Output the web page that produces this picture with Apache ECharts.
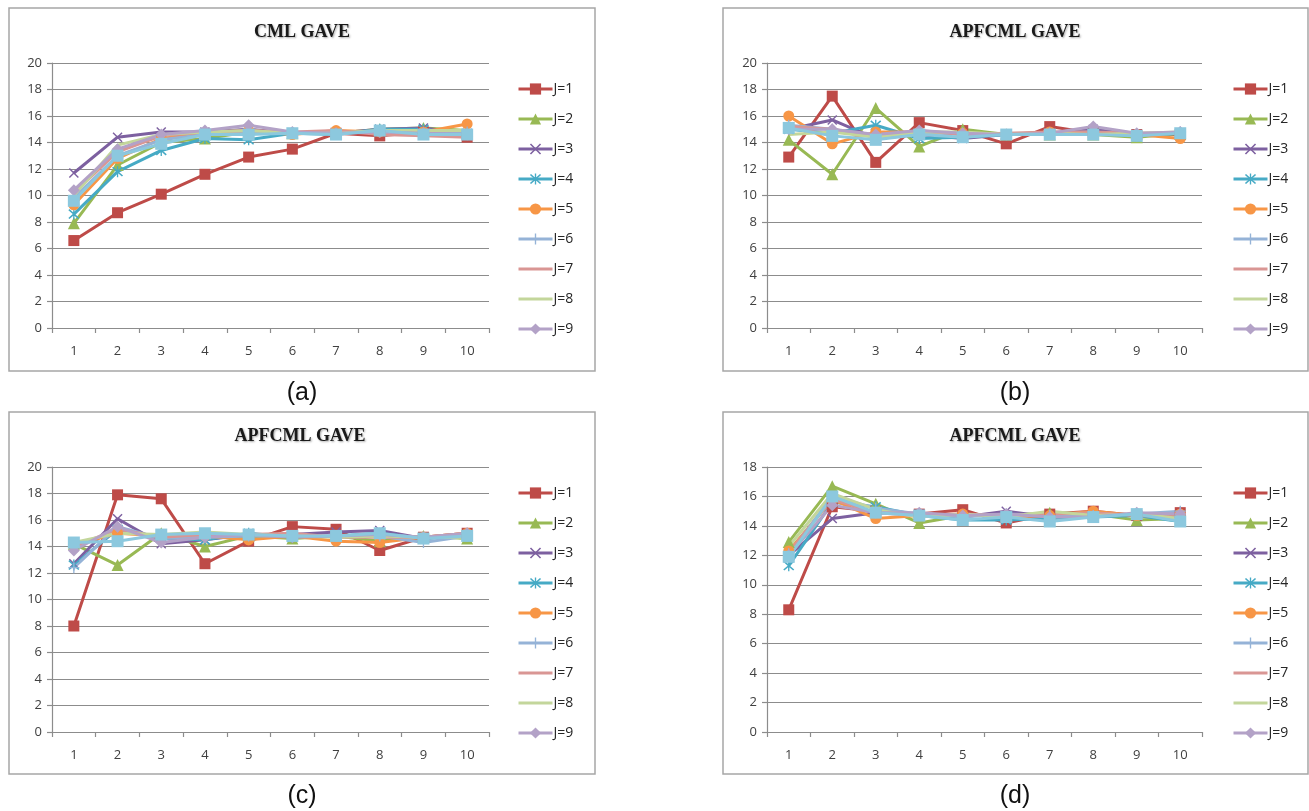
<!DOCTYPE html>
<html>
<head>
<meta charset="utf-8">
<script src="https://cdn.jsdelivr.net/npm/echarts@6/dist/echarts.min.js"></script>
<style>
html,body{margin:0;padding:0;background:#fff;}
#chart{width:1309px;height:811px;}
</style>
</head>
<body>
<div id="chart"></div>
<script>
// ---------- data ----------
const categories = ['1','2','3','4','5','6','7','8','9','10'];
const seriesNames = ['J=1','J=2','J=3','J=4','J=5','J=6','J=7','J=8','J=9','J=10'];
const legendNames = ['J=1','J=2','J=3','J=4','J=5','J=6','J=7','J=8','J=9'];
const panelTitles = ['CML GAVE','APFCML GAVE','APFCML GAVE','APFCML GAVE'];
const panelLabels = ['(a)','(b)','(c)','(d)'];
const yMaxes = [20, 20, 20, 18];

// (a) CML GAVE
const valuesA = [
  [6.6, 8.7, 10.1, 11.6, 12.9, 13.5, 14.7, 14.5, 14.8, 14.4],
  [7.9, 12.3, 14.0, 14.3, 14.8, 14.7, 14.7, 15.0, 15.1, 14.9],
  [11.7, 14.4, 14.8, 14.8, 15.0, 14.7, 14.7, 15.0, 15.1, 14.7],
  [8.6, 11.8, 13.4, 14.3, 14.2, 14.7, 14.6, 15.0, 15.0, 14.6],
  [9.3, 12.8, 14.3, 14.7, 14.9, 14.6, 14.9, 14.8, 14.8, 15.4],
  [9.8, 13.0, 14.2, 14.6, 14.8, 14.7, 14.7, 14.9, 14.7, 14.8],
  [10.2, 13.3, 14.5, 14.8, 14.9, 14.8, 14.9, 14.6, 14.5, 14.4],
  [10.0, 13.8, 14.6, 14.8, 14.9, 14.7, 14.7, 14.9, 14.9, 14.9],
  [10.4, 13.5, 14.6, 14.9, 15.3, 14.8, 14.7, 14.8, 14.7, 14.6],
  [9.6, 13.0, 13.9, 14.6, 14.6, 14.7, 14.6, 14.9, 14.6, 14.6]
];
// (b) APFCML GAVE
const valuesB = [
  [12.9, 17.5, 12.5, 15.5, 14.9, 13.9, 15.2, 14.7, 14.6, 14.6],
  [14.2, 11.6, 16.6, 13.7, 15.0, 14.6, 14.6, 14.6, 14.4, 14.7],
  [15.0, 15.7, 14.3, 14.6, 14.3, 14.6, 14.6, 15.0, 14.6, 14.7],
  [15.0, 14.7, 15.3, 14.3, 14.4, 14.6, 14.6, 14.7, 14.5, 14.7],
  [16.0, 13.9, 14.8, 14.8, 14.7, 14.6, 14.8, 14.6, 14.6, 14.3],
  [15.3, 15.0, 14.4, 14.8, 14.6, 14.6, 14.7, 14.8, 14.5, 14.8],
  [15.2, 15.0, 14.5, 14.9, 14.6, 14.7, 14.8, 14.8, 14.7, 14.7],
  [14.6, 14.8, 14.4, 14.8, 14.8, 14.6, 14.7, 14.6, 14.7, 14.8],
  [15.0, 15.0, 14.6, 14.9, 14.7, 14.6, 14.7, 15.2, 14.7, 14.8],
  [15.1, 14.5, 14.2, 14.6, 14.4, 14.6, 14.6, 14.6, 14.5, 14.7]
];
// (c) APFCML GAVE
const valuesC = [
  [8.0, 17.9, 17.6, 12.7, 14.4, 15.5, 15.3, 13.7, 14.7, 15.0],
  [14.2, 12.6, 15.0, 14.0, 14.8, 14.6, 14.8, 14.4, 14.8, 14.6],
  [12.7, 16.1, 14.2, 14.5, 14.9, 14.9, 15.1, 15.2, 14.6, 14.9],
  [12.6, 15.3, 14.6, 14.5, 15.0, 14.7, 14.8, 15.0, 14.6, 14.8],
  [14.1, 15.0, 14.8, 14.8, 14.5, 14.8, 14.4, 14.3, 14.7, 15.0],
  [12.4, 15.5, 14.6, 14.7, 14.8, 14.8, 14.8, 14.8, 14.3, 14.8],
  [14.0, 15.3, 14.7, 14.9, 14.9, 15.0, 14.7, 14.7, 14.7, 15.0],
  [14.3, 15.0, 14.9, 15.1, 14.9, 14.8, 14.7, 14.8, 14.7, 14.7],
  [13.7, 15.5, 14.3, 14.7, 14.9, 14.7, 14.8, 14.9, 14.7, 15.0],
  [14.3, 14.4, 14.9, 15.0, 14.9, 14.8, 14.8, 15.0, 14.6, 14.8]
];
// (d) APFCML GAVE
const valuesD = [
  [8.3, 15.3, 15.0, 14.8, 15.1, 14.2, 14.8, 15.0, 14.7, 14.9],
  [12.9, 16.7, 15.5, 14.2, 14.7, 14.7, 14.9, 14.8, 14.4, 14.5],
  [12.0, 14.5, 14.9, 14.8, 14.6, 15.0, 14.6, 14.6, 14.8, 14.6],
  [11.3, 15.6, 15.3, 14.7, 14.4, 14.4, 14.5, 14.6, 14.7, 14.3],
  [12.3, 15.8, 14.5, 14.7, 14.8, 14.6, 14.7, 15.0, 14.7, 14.8],
  [12.1, 16.0, 15.2, 14.8, 14.6, 14.8, 14.7, 14.7, 14.8, 15.0],
  [12.2, 15.8, 14.9, 14.7, 14.8, 14.7, 14.8, 14.9, 14.7, 14.6],
  [12.6, 16.2, 15.1, 14.6, 14.8, 14.6, 15.0, 14.7, 14.8, 14.5],
  [12.0, 15.4, 14.9, 14.9, 14.7, 14.8, 14.6, 14.6, 14.9, 14.8],
  [11.9, 16.0, 14.9, 14.7, 14.4, 14.6, 14.3, 14.6, 14.8, 14.3]
];
const panelValues = [valuesA, valuesB, valuesC, valuesD];

// ---------- styles ----------
const colors = ['#BE4B48','#98B954','#7D60A0','#46AAC5','#F79646','#95B3D7','#D99694','#C3D69B','#B3A2C7','#8CC8DE'];
const X_PATH = 'path://M0,1 L1,0 L5,4 L9,0 L10,1 L6,5 L10,9 L9,10 L5,6 L1,10 L0,9 L4,5 Z';
const STAR_PATH = 'path://M0,1.5 L1,0.5 L5,4 L9,0.5 L10,1.5 L6,5 L10,8.5 L9,9.5 L5,6 L1,9.5 L0,8.5 L4,5 Z M4.4,0 L5.6,0 L5.6,10 L4.4,10 Z';
const PLUS_PATH = 'path://M4.4,0 L5.6,0 L5.6,4.4 L10,4.4 L10,5.6 L5.6,5.6 L5.6,10 L4.4,10 L4.4,5.6 L0,5.6 L0,4.4 L4.4,4.4 Z';
const BAR_PATH = 'path://M0,0 L34,0 L34,3 L0,3 Z';
const symbols = ['rect','triangle',X_PATH,STAR_PATH,'circle',PLUS_PATH,'none','none','diamond','rect'];
const symbolSizes = [11,12,10,11,11,11,0,0,12,12];

const gridBoxes = [
  {left:52, top:63, width:437, height:265},
  {left:767, top:63, width:435, height:265},
  {left:52, top:467, width:437, height:265},
  {left:767, top:467, width:435, height:265}
];
const frames = [
  {x:9, y:8, w:586, h:363},
  {x:723, y:8, w:585, h:363},
  {x:9, y:412, w:586, h:362},
  {x:723, y:412, w:585, h:362}
];
const titleCenters = [[302,32],[1015,32],[300,436],[1015,436]];
const labelCenters = [[302,393],[1015,393],[302,796],[1015,796]];
const legendPos = [[512,77],[1227,77],[512,481],[1227,481]];

const axisColor = '#8C8C8C';
const labelFont = {fontFamily:'Open Sans', fontSize:13, color:'#404040'};

const grid = [], xAxis = [], yAxis = [], series = [], legend = [], graphic = [];

const legendData = legendNames.map((n, j) =>
  symbols[j] === 'none' ? {name:n, icon:BAR_PATH} : {name:n}
);

gridBoxes.forEach((g, p) => {
  grid.push({left:g.left, top:g.top, width:g.width, height:g.height, containLabel:false});
  xAxis.push({
    type:'category', gridIndex:p, data:categories, boundaryGap:true,
    axisLine:{show:true, lineStyle:{color:axisColor, width:1.2}},
    axisTick:{show:true, interval:0, length:5, lineStyle:{color:axisColor, width:1.2}},
    axisLabel:Object.assign({margin:17, interval:0}, labelFont),
    splitLine:{show:false}
  });
  yAxis.push({
    type:'value', gridIndex:p, min:0, max:yMaxes[p], interval:2,
    axisLine:{show:true, lineStyle:{color:axisColor, width:1.2}},
    axisTick:{show:true, length:5, lineStyle:{color:axisColor, width:1.2}},
    axisLabel:Object.assign({margin:10}, labelFont),
    splitLine:{show:true, lineStyle:{color:axisColor, width:1.2}}
  });
  panelValues[p].forEach((vals, j) => {
    series.push({
      name: seriesNames[j], type:'line', xAxisIndex:p, yAxisIndex:p,
      data: vals,
      symbol: symbols[j], symbolSize: symbolSizes[j],
      showSymbol: symbols[j] !== 'none',
      color: colors[j],
      lineStyle:{width:3, color:colors[j]},
      itemStyle:{color:colors[j], borderColor:colors[j], borderWidth:0},
      emphasis:{disabled:true},
      animation:false
    });
  });
  legend.push({
    orient:'vertical', left:legendPos[p][0], top:legendPos[p][1],
    data: legendData, itemWidth:34, itemHeight:14, itemGap:16, symbolKeepAspect:true,
    lineStyle:{width:3},
    textStyle:{fontFamily:'Open Sans', fontSize:14, lineHeight:14, color:'#262626', padding:[0,0,0,-4]},
    selectedMode:false
  });
  graphic.push({
    type:'rect', shape:{x:frames[p].x, y:frames[p].y, width:frames[p].w, height:frames[p].h}, silent:true, z:-1,
    style:{fill:'none', stroke:'#A6A6A6', lineWidth:1.5}
  });
  graphic.push({
    type:'text', x:titleCenters[p][0], y:titleCenters[p][1], silent:true,
    style:{text:panelTitles[p], fontFamily:'Liberation Serif', fontWeight:'bold', fontSize:18, fill:'#1a1a1a',
      textAlign:'center', textVerticalAlign:'middle',
      textShadowColor:'rgba(0,0,0,0.35)', textShadowBlur:2, textShadowOffsetX:1, textShadowOffsetY:1}
  });
  graphic.push({
    type:'text', x:labelCenters[p][0], y:labelCenters[p][1], silent:true,
    style:{text:panelLabels[p], fontFamily:'Liberation Sans', fontSize:25, fill:'#111',
      textAlign:'center', textVerticalAlign:'middle'}
  });
});

const chart = echarts.init(document.getElementById('chart'), null, {renderer:'canvas'});
chart.setOption({
  animation:false,
  backgroundColor:'#fff',
  grid, xAxis, yAxis, series, legend, graphic,
  tooltip:{show:false}
});
</script>
</body>
</html>
